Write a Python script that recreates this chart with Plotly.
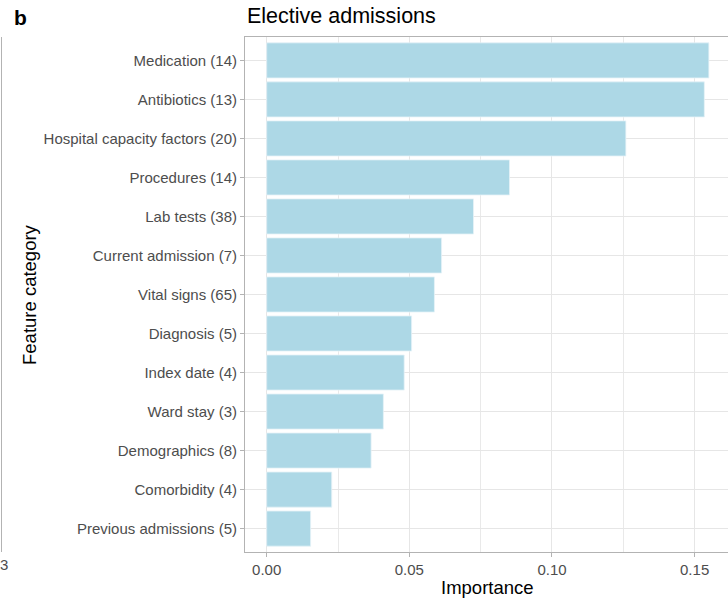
import plotly.graph_objects as go

categories = [
    "Medication (14)", "Antibiotics (13)", "Hospital capacity factors (20)",
    "Procedures (14)", "Lab tests (38)", "Current admission (7)",
    "Vital signs (65)", "Diagnosis (5)", "Index date (4)", "Ward stay (3)",
    "Demographics (8)", "Comorbidity (4)", "Previous admissions (5)",
]
importance = [0.155, 0.1534, 0.1259, 0.0851, 0.0725, 0.0613, 0.0588,
              0.0508, 0.0482, 0.0409, 0.0366, 0.0228, 0.0154]
x_ticks = [0.0, 0.05, 0.10, 0.15]
x_tick_labels = ["0.00", "0.05", "0.10", "0.15"]

FONT = "Liberation Sans, Arial, Helvetica, sans-serif"

W, H = 728, 601
L, T, B = 245, 37, 49
PW = W - L

cats_r = categories[::-1]
vals_r = importance[::-1]

fig = go.Figure(go.Bar(
    x=vals_r, y=cats_r, orientation="h", width=0.9,
    marker=dict(color="#ADD8E6", line=dict(color="#e6f3f8", width=0.8)),
    hoverinfo="x+y",
))

fig.update_layout(
    width=W, height=H,
    margin=dict(l=L, r=0, t=T, b=B),
    plot_bgcolor="white", paper_bgcolor="white",
    font=dict(family=FONT, size=15, color="#4d4d4d"),
    showlegend=False,
)
fig.update_xaxes(
    range=[-0.0076, 0.1617],
    tickvals=x_ticks, ticktext=x_tick_labels,
    showgrid=True, gridcolor="#e6e6e6", gridwidth=1,
    minor=dict(tickvals=[0.025, 0.075, 0.125], showgrid=True,
               gridcolor="#e9e9e9", gridwidth=1),
    ticks="outside", ticklen=4, tickcolor="#b3b3b3",
    showline=True, linecolor="#b3b3b3", linewidth=1, mirror=True,
    zeroline=False,
    tickfont=dict(size=15, color="#4d4d4d"),
)
fig.update_yaxes(
    range=[-0.6, 12.6],
    showgrid=True, gridcolor="#e6e6e6", gridwidth=1,
    ticks="outside", ticklen=4, tickcolor="#b3b3b3",
    showline=True, linecolor="#b3b3b3", linewidth=1, mirror=False,
    zeroline=False,
    tickfont=dict(size=15, color="#4d4d4d"),
)

fig.add_annotation(text="Elective admissions", xref="paper", yref="paper",
                   x=0, y=1, yshift=21, xanchor="left", yanchor="middle",
                   showarrow=False, font=dict(size=21.5, color="black", family=FONT))
fig.add_annotation(text="<b>b</b>", xref="paper", yref="paper",
                   x=-L / PW, xshift=12, y=1, yshift=20, xanchor="left", yanchor="middle",
                   showarrow=False, font=dict(size=21, color="black", family=FONT))
fig.add_annotation(text="Importance", xref="paper", yref="paper",
                   x=(487 - L) / PW, y=0, yshift=-35, xanchor="center", yanchor="middle",
                   showarrow=False, font=dict(size=18.5, color="black", family=FONT))
fig.add_annotation(text="Feature category", xref="paper", yref="paper",
                   x=-L / PW, xshift=17, y=0.5, xanchor="left", yanchor="middle",
                   textangle=-90,
                   showarrow=False, font=dict(size=18.5, color="black", family=FONT))
# remnants of the neighbouring panel
fig.add_annotation(text="3", xref="paper", yref="paper",
                   x=-L / PW, xshift=-2, y=0, yshift=-12, xanchor="left", yanchor="middle",
                   showarrow=False, font=dict(size=15, color="#4d4d4d", family=FONT))
fig.add_shape(type="line", xref="paper", yref="paper",
              x0=-(L - 1.5) / PW, x1=-(L - 1.5) / PW, y0=0, y1=1,
              line=dict(color="#b3b3b3", width=1))

fig.write_html("out.html",
               config={"displayModeBar": False},
               post_script="document.body.style.margin='0';document.body.style.overflow='hidden';")
